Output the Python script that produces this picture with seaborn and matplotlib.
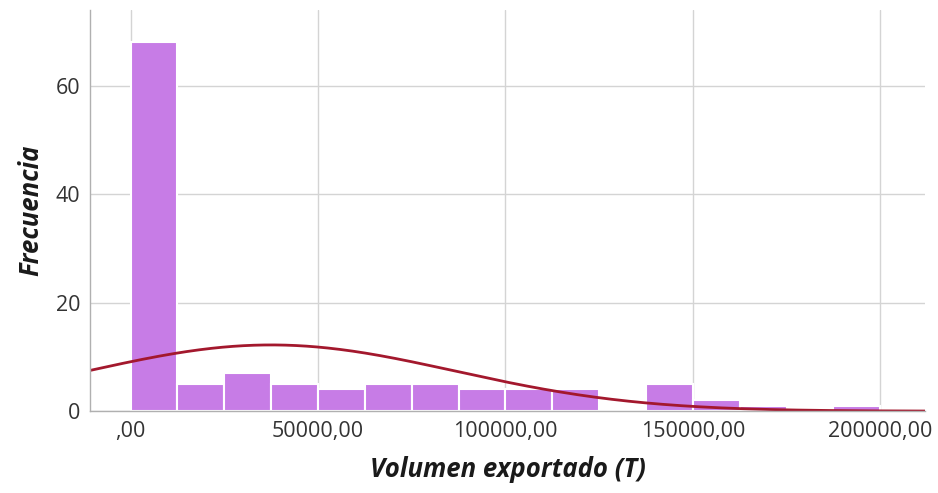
import numpy as np
import pandas as pd
import matplotlib
matplotlib.use("Agg")
import matplotlib.pyplot as plt
import seaborn as sns
from matplotlib.ticker import FuncFormatter

# Histogram bins (T) and frequencies
bin_edges = [0, 12500, 25000, 37500, 50000, 62500, 75000, 87500, 100000,
             112500, 125000, 137500, 150000, 162500, 175000, 187500, 200000]
frequencies = [68, 5, 7, 5, 4, 5, 5, 4, 4, 4, 0, 5, 2, 1, 0, 1]

# Normal curve parameters (fitted curve drawn by SPSS)
curve_mean = 37500
curve_sd = 49000

x_ticks = [0, 50000, 100000, 150000, 200000]
y_ticks = [0, 20, 40, 60]

bin_width = bin_edges[1] - bin_edges[0]
centers = [(a + b) / 2 for a, b in zip(bin_edges[:-1], bin_edges[1:])]
df = pd.DataFrame({"volumen": centers, "freq": frequencies})
n_total = sum(frequencies)

sns.set_theme(style="white")
plt.rcParams["font.family"] = ["Open Sans", "DejaVu Sans"]

fig = plt.figure(figsize=(9.38, 4.93), dpi=100)
ax = fig.add_axes([0.096, 0.166, 0.89, 0.814])

sns.histplot(data=df, x="volumen", weights="freq", bins=bin_edges,
             color="#c77ce6", alpha=1, edgecolor="white", linewidth=1.5, ax=ax)

xs = np.linspace(-12000, 212000, 400)
dens = n_total * bin_width / (curve_sd * np.sqrt(2 * np.pi)) * np.exp(-0.5 * ((xs - curve_mean) / curve_sd) ** 2)
sns.lineplot(x=xs, y=dens, color="#a3182d", linewidth=2, ax=ax)

ax.set_xlim(-10800, 211900)
ax.set_ylim(0, 74)
ax.set_xticks(x_ticks)
ax.set_yticks(y_ticks)
ax.xaxis.set_major_formatter(FuncFormatter(lambda v, p: ",00" if v == 0 else f"{int(v)},00"))

ax.grid(True, color="#d4d4d4", linewidth=1)
ax.set_axisbelow(True)
for s in ["top", "right"]:
    ax.spines[s].set_visible(False)
for s in ["left", "bottom"]:
    ax.spines[s].set_color("#b0b0b0")
    ax.spines[s].set_linewidth(1)

ax.tick_params(axis="both", length=0, labelsize=15.5, colors="#333333", pad=7)
ax.set_xlabel("Volumen exportado (T)", fontsize=18.5, fontweight="bold", fontstyle="italic",
              color="#1a1a1a", labelpad=10)
ax.set_ylabel("Frecuencia", fontsize=18.5, fontweight="bold", fontstyle="italic",
              color="#1a1a1a", labelpad=8)

fig.savefig("out.png", dpi=100)
